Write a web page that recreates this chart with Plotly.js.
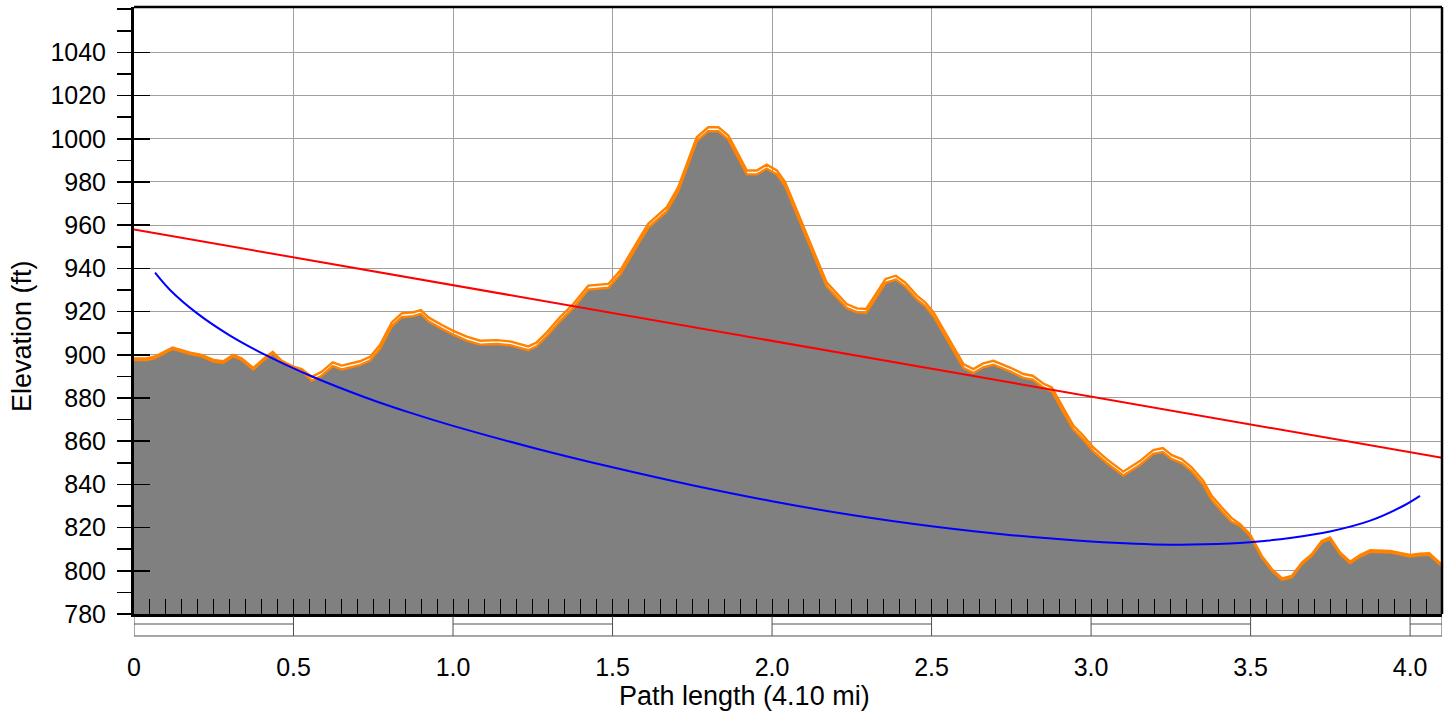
<!DOCTYPE html>
<html>
<head>
<meta charset="utf-8">
<script src="https://cdn.plot.ly/plotly-3.0.1.min.js"></script>
<style>
  html, body { margin: 0; padding: 0; background: #ffffff; }
  #chart { width: 1450px; height: 714px; }
</style>
</head>
<body>
<div id="chart"></div>
<script>
// Distance along the path (mi)
const pathMiles = [
  0.000, 0.040, 0.066, 0.121, 0.176, 0.212, 0.249, 0.280, 0.311, 0.338,
  0.374, 0.405, 0.435, 0.463, 0.499, 0.526, 0.557, 0.588, 0.623, 0.651,
  0.708, 0.740, 0.771, 0.808, 0.839, 0.876, 0.899, 0.923, 0.965, 1.001,
  1.043, 1.085, 1.137, 1.179, 1.236, 1.262, 1.294, 1.335, 1.377, 1.424,
  1.487, 1.524, 1.586, 1.612, 1.670, 1.706, 1.764, 1.800, 1.832, 1.863,
  1.921, 1.952, 1.983, 2.015, 2.041, 2.093, 2.156, 2.171, 2.234, 2.266,
  2.295, 2.328, 2.356, 2.388, 2.417, 2.454, 2.480, 2.506, 2.553, 2.600,
  2.631, 2.662, 2.694, 2.746, 2.788, 2.817, 2.850, 2.877, 2.918, 2.945,
  2.976, 3.007, 3.049, 3.101, 3.154, 3.195, 3.225, 3.253, 3.284, 3.316,
  3.352, 3.378, 3.410, 3.440, 3.467, 3.498, 3.535, 3.567, 3.599, 3.629,
  3.661, 3.692, 3.723, 3.749, 3.781, 3.812, 3.843, 3.875, 3.937, 4.000,
  4.031, 4.060, 4.100
];

// Recorded track elevation (ft)
const trackElevation = [
  898.3, 898.3, 899.2, 903.4, 901.0, 900.0, 897.6, 897.0, 900.0, 898.3,
  893.9, 898.0, 901.4, 897.2, 894.5, 893.4, 889.8, 892.1, 896.5, 895.0,
  897.0, 899.1, 904.5, 915.0, 919.2, 919.7, 920.7, 917.3, 913.8, 911.1,
  908.4, 906.5, 906.8, 906.2, 903.9, 905.7, 910.4, 917.3, 923.5, 932.0,
  932.8, 939.0, 954.4, 960.6, 968.3, 977.6, 1000.7, 1005.3, 1005.3, 1001.5,
  985.3, 985.3, 988.0, 985.3, 979.9, 961.3, 939.0, 933.5, 923.5, 921.5,
  921.2, 928.9, 935.1, 936.6, 933.5, 927.4, 924.3, 919.7, 908.0, 895.7,
  893.4, 896.0, 897.2, 894.1, 891.1, 890.3, 886.7, 884.9, 874.0, 867.1,
  862.5, 857.1, 851.7, 845.9, 850.9, 855.9, 856.8, 853.5, 851.7, 847.8,
  841.6, 834.7, 829.3, 824.5, 821.6, 816.9, 806.9, 800.7, 796.5, 797.6,
  803.8, 807.7, 813.8, 815.4, 808.4, 804.2, 807.3, 809.5, 809.2, 807.3,
  807.9, 808.1, 802.7
];

// Terrain elevation under the track (ft)
const groundElevation = [
  897.6, 897.6, 898.5, 902.7, 900.3, 899.3, 896.9, 896.3, 899.3, 897.6,
  893.2, 897.3, 900.7, 896.5, 893.8, 892.7, 888.0, 890.3, 894.7, 893.2,
  895.2, 897.3, 902.7, 913.2, 917.4, 917.9, 918.9, 915.5, 912.0, 909.3,
  906.6, 904.7, 905.0, 904.4, 902.1, 903.9, 908.6, 915.5, 921.7, 930.2,
  931.0, 937.2, 952.6, 958.8, 966.5, 975.8, 998.9, 1003.5, 1003.5, 999.7,
  983.5, 983.5, 986.2, 983.5, 978.1, 959.5, 937.2, 931.7, 921.7, 919.7,
  919.4, 927.1, 933.3, 934.8, 931.7, 925.6, 922.5, 917.9, 906.2, 893.9,
  891.6, 894.2, 895.4, 892.3, 889.3, 888.5, 884.9, 883.1, 872.2, 865.3,
  860.7, 855.3, 849.9, 844.1, 849.1, 854.1, 855.0, 851.7, 849.9, 846.0,
  839.8, 832.9, 827.5, 822.7, 820.9, 816.2, 806.2, 800.0, 795.8, 796.9,
  803.1, 807.0, 813.1, 814.7, 807.7, 803.5, 806.6, 808.8, 808.5, 806.6,
  807.2, 807.4, 802.0
];

// Linear trend of elevation
const linearMiles = [0.0, 4.10];
const linearElevation = [958.0, 852.3];

// Curved trend of elevation
const curveMiles = [
  0.066, 0.113, 0.196, 0.301, 0.426, 0.562, 0.719, 0.865, 1.000, 1.250,
  1.500, 1.750, 2.000, 2.250, 2.500, 2.750, 3.000, 3.250, 3.436, 3.498,
  3.624, 3.749, 3.875, 3.978, 4.031
];
const curveElevation = [
  938.0, 930.0, 919.4, 908.9, 898.9, 889.7, 880.6, 873.2, 867.1, 857.0,
  847.9, 839.6, 832.2, 825.8, 820.6, 816.5, 813.6, 812.1, 812.6, 813.2,
  815.2, 818.2, 823.2, 830.0, 834.7
];

// Axis ticks
const xTickVals = [0, 0.5, 1.0, 1.5, 2.0, 2.5, 3.0, 3.5, 4.0];
const xTickText = ['0', '0.5', '1.0', '1.5', '2.0', '2.5', '3.0', '3.5', '4.0'];
const yTickVals = [780, 800, 820, 840, 860, 880, 900, 920, 940, 960, 980, 1000, 1020, 1040];
const xRange = [0, 4.10];
const yRange = [780, 1061];

const FONT = 'Liberation Sans, Arial, sans-serif';
const ORANGE = '#ff8200';

const traces = [
  {
    x: pathMiles, y: groundElevation, type: 'scatter', mode: 'lines',
    fill: 'tozeroy', fillcolor: '#808080',
    line: { color: ORANGE, width: 2.4 }
  },
  {
    x: pathMiles, y: trackElevation, type: 'scatter', mode: 'lines',
    line: { color: ORANGE, width: 2.4 }
  },
  {
    x: linearMiles, y: linearElevation, type: 'scatter', mode: 'lines',
    line: { color: '#ff0000', width: 2 }
  },
  {
    x: curveMiles, y: curveElevation, type: 'scatter', mode: 'lines',
    line: { color: '#0000ff', width: 2, shape: 'spline', smoothing: 1 }
  }
];

// Distance scale bar under the plot: alternating half-mile cells
const barTop = -0.004, barMid = -0.0165, barBottom = -0.0362;
const shapes = [];
const barEdges = xTickVals.concat([xRange[1]]);
shapes.push({ type: 'line', xref: 'x', yref: 'paper', x0: xRange[0], x1: xRange[1],
  y0: barBottom, y1: barBottom, line: { color: '#505050', width: 1 } });
barEdges.forEach(function (v) {
  shapes.push({ type: 'line', xref: 'x', yref: 'paper', x0: v, x1: v,
    y0: barTop, y1: barBottom, line: { color: '#505050', width: 1 } });
});
for (let i = 0; i < barEdges.length - 1; i += 2) {
  shapes.push({ type: 'line', xref: 'x', yref: 'paper', x0: barEdges[i], x1: barEdges[i + 1],
    y0: barMid, y1: barMid, line: { color: '#505050', width: 1 } });
}
// Top and right frame
shapes.push({ type: 'line', xref: 'paper', yref: 'paper', x0: 0, x1: 1, y0: 1, y1: 1,
  line: { color: '#000000', width: 2.5 } });
shapes.push({ type: 'line', xref: 'paper', yref: 'paper', x0: 1, x1: 1, y0: 0, y1: 1,
  line: { color: '#000000', width: 2.5 } });

const layout = {
  width: 1450, height: 714,
  margin: { l: 134, r: 8, t: 7, b: 100 },
  paper_bgcolor: '#ffffff', plot_bgcolor: '#ffffff',
  showlegend: false,
  font: { family: FONT, size: 25, color: '#000000' },
  xaxis: {
    range: xRange, tickmode: 'array', tickvals: xTickVals, ticktext: xTickText,
    showgrid: true, gridcolor: '#a0a0a0', gridwidth: 1,
    zeroline: false,
    showline: true, linecolor: '#000000', linewidth: 3,
    ticks: 'inside', ticklen: 15, tickcolor: '#000000', tickwidth: 1,
    minor: { dtick: 0.05, tick0: 0, ticks: 'inside', ticklen: 15, tickcolor: '#000000', tickwidth: 1, showgrid: false },
    ticklabelstandoff: 29,
    tickfont: { family: FONT, size: 25, color: '#000000' }
  },
  yaxis: {
    range: yRange, tickmode: 'array', tickvals: yTickVals,
    showgrid: true, gridcolor: '#a0a0a0', gridwidth: 1,
    zeroline: false,
    showline: true, linecolor: '#000000', linewidth: 3,
    ticks: 'outside', ticklen: 14, tickcolor: '#000000', tickwidth: 1.5,
    minor: { dtick: 10, tick0: 780, ticks: 'outside', ticklen: 14, tickcolor: '#000000', tickwidth: 1.5, showgrid: false },
    ticklabelstandoff: 6,
    tickfont: { family: FONT, size: 25, color: '#000000' }
  },
  yaxis2: {
    range: yRange, overlaying: 'y', side: 'left', anchor: 'x',
    tickmode: 'array', tickvals: yTickVals,
    showgrid: false, zeroline: false, showline: false, showticklabels: false,
    ticks: 'inside', ticklen: 16, tickcolor: '#000000', tickwidth: 1.5
  },
  shapes: shapes,
  annotations: [
    { text: 'Elevation (ft)', xref: 'paper', yref: 'paper', x: -0.0856, y: 0.458,
      xanchor: 'center', yanchor: 'middle', textangle: -90, showarrow: false,
      font: { family: FONT, size: 27, color: '#000000' } },
    { text: 'Path length (4.10 mi)', xref: 'paper', yref: 'paper', x: 0.4664, y: -0.135,
      xanchor: 'center', yanchor: 'middle', showarrow: false,
      font: { family: FONT, size: 27, color: '#000000' } }
  ]
};

// Empty trace so the overlaying axis is drawn
traces.push({ x: [], y: [], yaxis: 'y2', type: 'scatter', mode: 'lines', hoverinfo: 'skip' });

Plotly.newPlot('chart', traces, layout, { displayModeBar: false, staticPlot: true });
</script>
</body>
</html>
